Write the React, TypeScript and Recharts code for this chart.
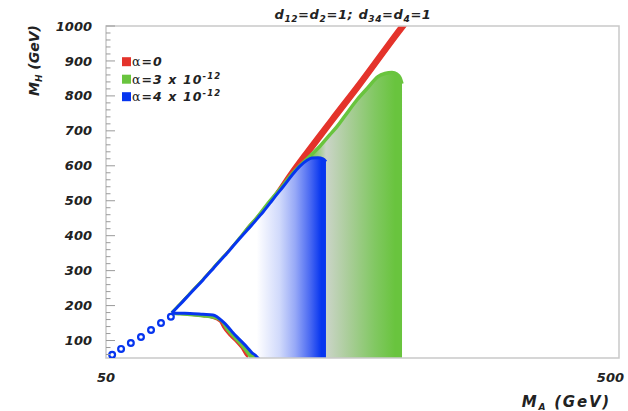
import React from 'react';
import { ComposedChart, Area, Scatter, XAxis, YAxis, ReferenceArea, Customized } from 'recharts';

const RED = '#e4332b';
const GREEN = '#69c43e';
const BLUE = '#0635ef';
const FONT = "'DejaVu Sans', 'Liberation Sans', sans-serif";

// alpha = 0 (red)
const redMA = [67.2, 69.7, 72.9, 77.3, 80.5, 83.4, 84.5, 87.2, 89.6, 91.7, 94.6, 95.9, 104.4, 114.2, 121.6, 136.6, 156.4, 184.6, 195.7];
const redLow = [176, 175, 173, 168.6, 164.6, 153, 138, 113, 96, 79, 52, 411, 476, 559, 613, 711, 823, 966, 1015];
const redHigh = [181, 206, 237, 277, 306, 331, 340, 363, 382, 400, 426, 436, 500, 583, 637.5, 735, 847, 990, 1039];

// alpha = 3 x 10^-12 (green)
const greenMA = [67.2, 69.7, 72.9, 77.3, 80.8, 84.2, 85.7, 88.4, 90.8, 92.9, 95.9, 97.2, 103.0, 110.7, 115.2, 119.4, 124.9, 130.6, 136.6, 141.0, 146.2, 154.3, 162.1, 169.5, 174.9, 180.5, 184.6, 187.1, 188.8];
const greenLow = [178, 176.5, 174.7, 171, 167.5, 156, 137, 114, 96, 79, 52, 40, 40, 40, 40, 40, 40, 40, 40, 40, 40, 40, 40, 40, 40, 40, 40, 40, 40];
const greenHigh = [179, 203, 234, 273.5, 305, 335, 346, 369, 390, 408, 433, 442, 489, 544, 577, 601, 628, 656, 689, 712, 743, 789, 824, 855, 864, 867, 862, 852, 835];

// alpha = 4 x 10^-12 (blue)
const blueMA = [67.2, 69.7, 72.9, 77.3, 80.8, 84.5, 86.5, 88.4, 91.2, 94.1, 96.3, 97.6, 98.9, 101.2, 104.4, 106.7, 110.7, 115.2, 119.4, 123.3, 126.0, 129.5, 132.4, 134.2];
const blueLow = [179, 178, 177.5, 175, 173, 154, 139, 122, 102, 81.5, 65, 58.6, 50, 40, 40, 40, 40, 40, 40, 40, 40, 40, 40, 40];
const blueHigh = [179, 203, 234, 273.5, 305, 337, 353, 369.5, 392.5, 415, 431, 441, 451, 468, 493, 511, 540, 573, 599, 616, 622, 623, 620, 612];

// blue ring markers along the lower diagonal
const ringMA = [51.4, 53.5, 55.9, 58.5, 61.2, 64.0, 66.9];
const ringMH = [59, 76, 93, 110, 130, 150, 168];

const xTicks = [50, 500];
const yTicks = [60, 80, 100, 120, 140, 160, 180, 200, 220, 240, 260, 280, 300, 320, 340, 360, 380, 400, 420, 440, 460, 480, 500, 520, 540, 560, 580, 600, 620, 640, 660, 680, 700, 720, 740, 760, 780, 800, 820, 840, 860, 880, 900, 920, 940, 960, 980, 1000];
const yLabelTicks = [100, 200, 300, 400, 500, 600, 700, 800, 900, 1000];

const legendItems = [
  { color: RED, base: '=0', exp: '' },
  { color: GREEN, base: '=3 x 10', exp: '-12' },
  { color: BLUE, base: '=4 x 10', exp: '-12' },
];

const toRange = (xs: number[], lo: number[], hi: number[]) => xs.map((x, i) => ({ x, r: [lo[i], hi[i]] }));
const redData = toRange(redMA, redLow, redHigh);
const greenData = toRange(greenMA, greenLow, greenHigh);
const blueData = toRange(blueMA, blueLow, blueHigh);
const ringData = ringMA.map((x, i) => ({ x, y: ringMH[i] }));

const textStyle = { fontFamily: FONT, fontWeight: 700, fontStyle: 'italic', fill: '#222' } as const;

const YTick = (props: any) => {
  const { x, y, payload } = props;
  const v = payload.value;
  const major = yLabelTicks.includes(v);
  return (
    <g>
      <line x1={x + 14} x2={x + 14 + (major ? 9 : 4.5)} y1={y} y2={y} stroke="#9a9a9a" strokeWidth={1} />
      {major && (
        <text x={x} y={y} dy={4.6} textAnchor="end" fontSize={13} {...textStyle}>
          {v}
        </text>
      )}
    </g>
  );
};

const XTick = (props: any) => {
  const { x, y, payload, index } = props;
  const last = index === xTicks.length - 1;
  return (
    <text x={last ? x + 8 : x} y={y} dy={10} textAnchor={last ? 'end' : 'middle'} fontSize={13} {...textStyle}>
      {payload.value}
    </text>
  );
};

const Ring = (props: any) => {
  const { cx, cy } = props;
  return <circle cx={cx} cy={cy} r={2.9} fill="#fff" stroke={BLUE} strokeWidth={2.2} />;
};

const Decorations = () => (
  <g>
    {/* title */}
    <text x={353} y={19} textAnchor="middle" fontSize={13} letterSpacing={0.6} {...textStyle}>
      d<tspan dy={3} fontSize={9}>12</tspan>
      <tspan dy={-3}>=d</tspan>
      <tspan dy={3} fontSize={9}>2</tspan>
      <tspan dy={-3}>=1; d</tspan>
      <tspan dy={3} fontSize={9}>34</tspan>
      <tspan dy={-3}>=d</tspan>
      <tspan dy={3} fontSize={9}>4</tspan>
      <tspan dy={-3}>=1</tspan>
    </text>
    {/* y title */}
    <text transform="rotate(-90)" x={-25} y={39} textAnchor="end" fontSize={14} {...textStyle}>
      M<tspan dy={3} fontSize={9}>H</tspan>
      <tspan dy={-3}> (GeV)</tspan>
    </text>
    {/* x title */}
    <text x={611} y={407} textAnchor="end" fontSize={15} letterSpacing={1.8} {...textStyle}>
      M<tspan dy={3} fontSize={9}>A</tspan>
      <tspan dy={-3}> (GeV)</tspan>
    </text>
    {/* legend */}
    {legendItems.map((it, i) => {
      const cy = 61.7 + i * 17.5;
      return (
        <g key={i}>
          <rect x={122} y={cy - 4.5} width={9} height={9} fill={it.color} />
          <text x={132} y={cy + 4.5} fontSize={12.5} letterSpacing={1.1} {...textStyle}>
            <tspan fontStyle="normal" fontWeight={400} fontFamily="'DejaVu Serif', serif">α</tspan>
            <tspan>{it.base}</tspan>
            {it.exp && (
              <tspan dy={-5} fontSize={8.5}>
                {it.exp}
              </tspan>
            )}
          </text>
        </g>
      );
    })}
  </g>
);

export default function App() {
  return (
    <div style={{ position: 'absolute', left: 0, top: 0, background: '#fff' }}>
      <ComposedChart width={628} height={411} margin={{ top: 26, right: 9, bottom: 0, left: 0 }}>
        <defs>
          <linearGradient id="blueFill" x1="0" y1="0" x2="1" y2="0">
            <stop offset="0" stopColor="#ffffff" />
            <stop offset="0.55" stopColor="#ffffff" />
            <stop offset="0.7" stopColor="#d0d9fb" />
            <stop offset="0.8" stopColor="#97a9f7" />
            <stop offset="0.9" stopColor="#4767f2" />
            <stop offset="0.97" stopColor={BLUE} />
            <stop offset="1" stopColor={BLUE} />
          </linearGradient>
          <linearGradient id="greenFill" x1="0" y1="0" x2="1" y2="0">
            <stop offset="0" stopColor={GREEN} />
            <stop offset="0.6" stopColor={GREEN} />
            <stop offset="0.67" stopColor="#cbd4c8" />
            <stop offset="0.77" stopColor="#a9cd98" />
            <stop offset="0.88" stopColor="#82c863" />
            <stop offset="0.97" stopColor={GREEN} />
            <stop offset="1" stopColor={GREEN} />
          </linearGradient>
        </defs>
        <XAxis
          dataKey="x"
          type="number"
          scale="log"
          domain={[50, 500]}
          ticks={xTicks}
          allowDataOverflow
          height={53}
          tickLine={false}
          axisLine={false}
          tickSize={0}
          tickMargin={14}
          tick={<XTick />}
        />
        <YAxis
          dataKey="y"
          type="number"
          domain={[50, 1000]}
          ticks={yTicks}
          interval={0}
          allowDataOverflow
          width={106}
          tickLine={false}
          axisLine={false}
          tickSize={0}
          tickMargin={14}
          tick={<YTick />}
        />
        <Area data={redData} dataKey="r" type="monotone" fill={RED} fillOpacity={1} stroke={RED} strokeWidth={1.5} isAnimationActive={false} />
        <Area data={greenData} dataKey="r" type="monotone" fill="url(#greenFill)" fillOpacity={1} stroke={GREEN} strokeWidth={3.5} isAnimationActive={false} />
        <Area data={blueData} dataKey="r" type="monotone" fill="url(#blueFill)" fillOpacity={1} stroke={BLUE} strokeWidth={3} isAnimationActive={false} />
        <Scatter data={ringData} dataKey="y" shape={<Ring />} isAnimationActive={false} />
        <ReferenceArea x1={50} x2={500} y1={50} y2={1000} fill="none" stroke="#c9c9c9" strokeWidth={1.5} ifOverflow="visible" />
        <Customized component={Decorations} />
      </ComposedChart>
    </div>
  );
}
